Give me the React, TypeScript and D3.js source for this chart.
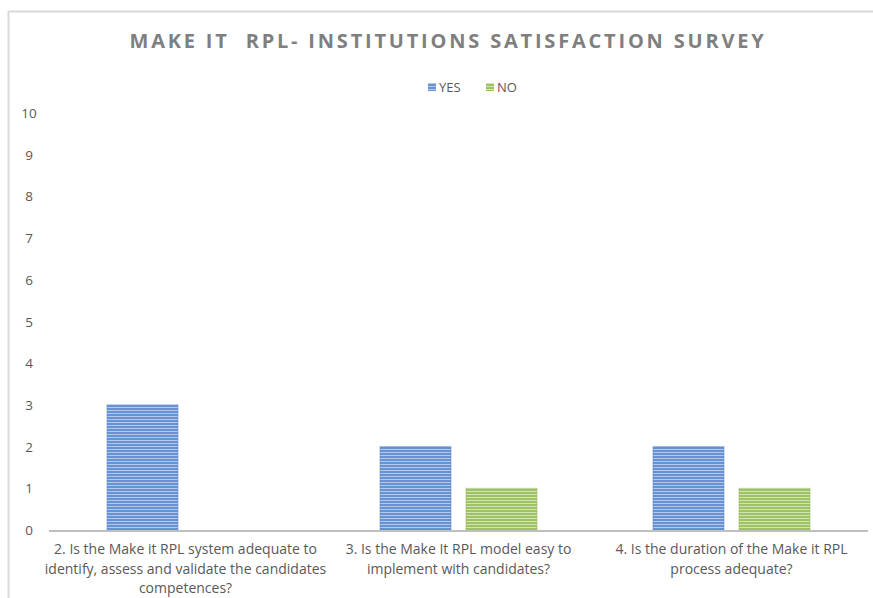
import React, { useRef, useEffect } from 'react';
import * as d3 from 'd3';

const categories = [
  ['2. Is the Make it RPL system adequate to', 'identify, assess and validate the candidates', 'competences?'],
  ['3. Is the Make It RPL model easy to', 'implement with candidates?'],
  ['4. Is the duration of the Make it RPL', 'process adequate?'],
];
const seriesNames = ['YES', 'NO'];
const yesValues = [3, 2, 2];
const noValues = [0, 1, 1];
const yTicks = [0, 1, 2, 3, 4, 5, 6, 7, 8, 9, 10];

const App = () => {
  const chartRef = useRef<SVGSVGElement>(null);

  useEffect(() => {
    const width = 873;
    const height = 598;
    const margin = { top: 113, right: 5, bottom: 68, left: 49 };
    const font = "'Open Sans', 'Noto Sans', sans-serif";

    const svg = d3.select(chartRef.current)
      .attr('width', width)
      .attr('height', height);
    svg.selectAll('*').remove();

    // striped fills like the office chart
    const defs = svg.append('defs');
    const makePattern = (id: string, base: string, light: string) => {
      const p = defs.append('pattern')
        .attr('id', id)
        .attr('patternUnits', 'userSpaceOnUse')
        .attr('width', 8)
        .attr('height', 3);
      p.append('rect').attr('width', 8).attr('height', 3).attr('fill', base);
      p.append('rect').attr('y', 2).attr('width', 8).attr('height', 1).attr('fill', light);
    };
    makePattern('stripeYes', '#6792d3', '#b3c8ea');
    makePattern('stripeNo', '#9fc264', '#d3e4b4');

    // chart border (left and top edges visible)
    svg.append('line').attr('x1', 8.5).attr('x2', 8.5).attr('y1', 11).attr('y2', height).attr('stroke', '#d9d9d9').attr('stroke-width', 2);
    svg.append('line').attr('x1', 8).attr('x2', width).attr('y1', 11.5).attr('y2', 11.5).attr('stroke', '#d9d9d9').attr('stroke-width', 2);

    const x0 = d3.scaleBand<number>()
      .domain(categories.map((d, i) => i))
      .range([margin.left, width - margin.right]);

    const x1 = d3.scaleBand<string>()
      .domain(seriesNames)
      .range([0, x0.bandwidth()])
      .paddingInner(0.174)
      .paddingOuter(0.674);

    const y = d3.scaleLinear()
      .domain([0, 10])
      .range([height - margin.bottom, margin.top]);

    // title
    svg.append('text')
      .attr('x', 448)
      .attr('y', 48)
      .attr('text-anchor', 'middle')
      .attr('font-family', font)
      .attr('font-size', 20)
      .attr('font-weight', 'bold')
      .attr('letter-spacing', 2.8)
      .attr('fill', '#7f7f7f')
      .attr('xml:space', 'preserve')
      .style('white-space', 'pre')
      .text('MAKE IT  RPL- INSTITUTIONS SATISFACTION SURVEY');

    // legend
    const legend = svg.append('g').attr('transform', 'translate(428,87)');
    seriesNames.forEach((name, i) => {
      const g = legend.append('g').attr('transform', `translate(${i * 58},0)`);
      g.append('rect').attr('x', 0).attr('y', -4).attr('width', 8).attr('height', 8)
        .attr('fill', `url(#${i === 0 ? 'stripeYes' : 'stripeNo'})`);
      g.append('text').attr('x', 11).attr('y', 5)
        .attr('font-family', font).attr('font-size', 13).attr('fill', '#595959')
        .text(name);
    });

    // y axis labels
    svg.append('g')
      .selectAll('text')
      .data(yTicks)
      .enter().append('text')
      .attr('x', 29)
      .attr('y', d => y(d) + 5)
      .attr('text-anchor', 'middle')
      .attr('font-family', font)
      .attr('font-size', 13.5)
      .attr('fill', '#595959')
      .text(d => d);

    // bars
    const groups = svg.append('g')
      .selectAll('g')
      .data(categories.map((c, i) => i))
      .enter().append('g')
      .attr('transform', d => `translate(${x0(d)},0)`);

    groups.selectAll('rect')
      .data(i => [
        { key: 'YES', value: yesValues[i] },
        { key: 'NO', value: noValues[i] },
      ])
      .enter().append('rect')
      .filter(d => d.value > 0)
      .attr('x', d => x1(d.key)!)
      .attr('y', d => y(d.value))
      .attr('width', x1.bandwidth())
      .attr('height', d => y(0) - y(d.value))
      .attr('fill', d => d.key === 'YES' ? 'url(#stripeYes)' : 'url(#stripeNo)')
      .attr('stroke', d => d.key === 'YES' ? '#5b83c4' : '#93b559')
      .attr('stroke-opacity', 0.5)
      .attr('stroke-width', 1);

    // baseline
    svg.append('line')
      .attr('x1', margin.left).attr('x2', width - margin.right)
      .attr('y1', y(0) + 1).attr('y2', y(0) + 1)
      .attr('stroke', '#bfbfbf').attr('stroke-width', 2);

    // category labels
    groups.each(function (i) {
      const t = d3.select(this).append('text')
        .attr('text-anchor', 'middle')
        .attr('font-family', font)
        .attr('font-size', 14)
        .attr('fill', '#595959');
      categories[i].forEach((line, j) => {
        t.append('tspan')
          .attr('x', x0.bandwidth() / 2)
          .attr('y', 554 + j * 19.5)
          .text(line);
      });
    });
  }, []);

  return (
    <svg ref={chartRef} style={{ position: 'absolute', left: 0, top: 0, display: 'block' }}></svg>
  );
};

export default App;
